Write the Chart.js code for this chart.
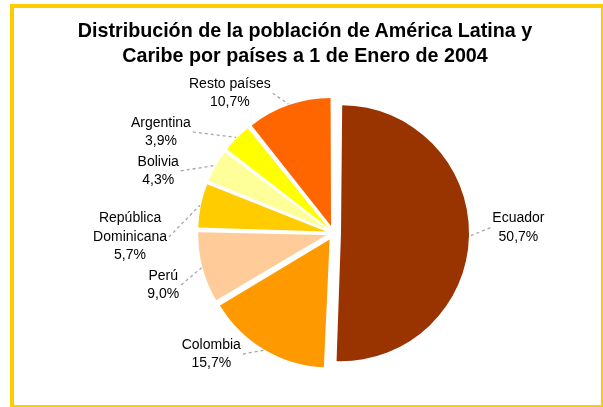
<!DOCTYPE html>
<html>
<head>
<meta charset="utf-8">
<script src="https://cdn.jsdelivr.net/npm/chart.js@4.4.0/dist/chart.umd.min.js"></script>
<style>
    html, body { margin: 0; padding: 0; background: #fff; overflow: hidden; }
    #wrap { position: relative; width: 603px; height: 407px; overflow: hidden; }
    .frame { position: absolute; left: 10px; top: 4px; width: 595px; height: 405px; border: 4px solid #FFCC00; box-sizing: border-box; }
    .title { position: absolute; left: 8px; top: 18px; width: 594px; text-align: center; font: bold 19.7px "Liberation Sans", Arial, sans-serif; line-height: 25px; color: #000; }
    canvas { position: absolute; left: 0; top: 0; }
</style>
</head>
<body>
<div id="wrap">
    <div class="frame"></div>
    <canvas id="pieChart" width="603" height="407"></canvas>
    <div class="title">Distribución de la población de América Latina y<br>Caribe por países a 1 de Enero de 2004</div>
</div>
<script>
// Data (clockwise from 12 o'clock)
const categories = ['Ecuador', 'Colombia', 'Perú', ['República', 'Dominicana'], 'Bolivia', 'Argentina', 'Resto países'];
const shares = [50.7, 15.7, 9.0, 5.7, 4.3, 3.9, 10.7];
const sliceColors = ['#993300', '#FF9900', '#FFCC99', '#FFCC00', '#FFFF99', '#FFFF00', '#FF6600'];

// label placement: [angle shift from slice middle (deg), distance from centre (px)]
const labelPlace = [[-2.9, 185], [14.5, 172], [-2.2, 178], [-12.8, 203.5], [-10.2, 186], [-14.1, 200], [-17.3, 174]];

const pieRadius = 128;
const explode = 7.5; // pixels each slice is pulled out

function fmtPct(v) {
    return v.toFixed(1).replace('.', ',') + '%';
}

// Chart.js grows an exploded arc's radius by offset/4 * fix; shrink it back so all slices match
function radiusGrowth(arc) {
    const fix = 1 - Math.sin(Math.min(Math.PI, arc.circumference || 0));
    return (arc.options.offset || 0) / 4 * fix;
}

const equalRadiusPlugin = {
    id: 'equalRadius',
    beforeDatasetsDraw(chart) {
        chart.getDatasetMeta(0).data.forEach(arc => {
            arc.outerRadius = pieRadius - radiusGrowth(arc);
        });
    }
};

// Outside labels with dashed leader lines
const calloutPlugin = {
    id: 'callouts',
    afterDatasetsDraw(chart, args, opts) {
        const ctx = chart.ctx;
        const meta = chart.getDatasetMeta(0);
        const data = chart.data.datasets[0].data;
        ctx.save();
        ctx.font = '14px "Liberation Sans", Arial, sans-serif';
        ctx.textAlign = 'center';
        ctx.textBaseline = 'middle';
        meta.data.forEach((arc, i) => {
            const mid = (arc.startAngle + arc.endAngle) / 2;
            const off = (arc.options.offset || 0) / 4;
            const cx = arc.x + Math.cos(mid) * off;
            const cy = arc.y + Math.sin(mid) * off;
            const r = arc.outerRadius + radiusGrowth(arc);

            const place = opts.place[i];
            const a = mid + place[0] * Math.PI / 180;
            const lx = arc.x + Math.cos(a) * place[1];
            const ly = arc.y + Math.sin(a) * place[1];
            const lines = [].concat(chart.data.labels[i], fmtPct(data[i]));
            const w = Math.max(...lines.map(t => ctx.measureText(t).width));

            ctx.fillStyle = '#000';
            lines.forEach((t, j) => {
                ctx.fillText(t, lx, ly + (j - (lines.length - 1) / 2) * opts.lineHeight);
            });

            // leader line
            const ex = cx + Math.cos(mid) * (r + 1);
            const ey = cy + Math.sin(mid) * (r + 1);
            const sx = Math.cos(mid) < 0 ? lx + w / 2 + 2 : lx - w / 2 - 2;
            ctx.strokeStyle = '#A6A6A6';
            ctx.lineWidth = 1.3;
            ctx.setLineDash([3, 3]);
            ctx.beginPath();
            ctx.moveTo(sx, ly);
            ctx.lineTo(ex, ey);
            ctx.stroke();
            ctx.setLineDash([]);
        });
        ctx.restore();
    }
};

const pieCtx = document.getElementById('pieChart').getContext('2d');
new Chart(pieCtx, {
    type: 'pie',
    data: {
        labels: categories,
        datasets: [{
            data: shares,
            backgroundColor: sliceColors,
            borderWidth: 0,
            offset: explode * 4,
            hoverOffset: 0
        }]
    },
    options: {
        responsive: false,
        animation: false,
        radius: pieRadius,
        layout: { padding: { left: 100, right: 36, top: 100, bottom: 41 } },
        plugins: {
            legend: { display: false },
            tooltip: { enabled: false },
            title: { display: false },
            callouts: { place: labelPlace, lineHeight: 18.5 }
        }
    },
    plugins: [equalRadiusPlugin, calloutPlugin]
});
</script>
</body>
</html>
